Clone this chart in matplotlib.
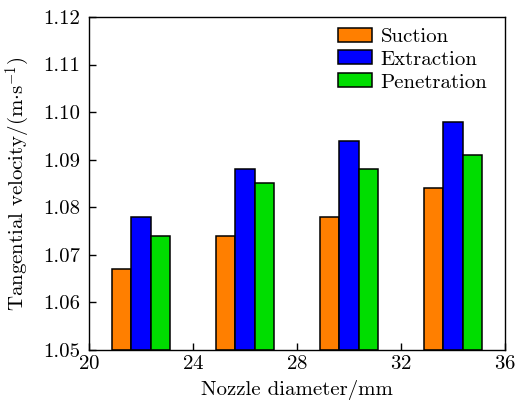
import numpy as np
import matplotlib
matplotlib.use("Agg")
import matplotlib.pyplot as plt

plt.rcParams['font.family'] = 'serif'
plt.rcParams['font.serif'] = ['cmr10']
plt.rcParams['mathtext.fontset'] = 'cm'
plt.rcParams['axes.formatter.use_mathtext'] = True

diameters = [22, 26, 30, 34]
suction = [1.067, 1.074, 1.078, 1.084]
extraction = [1.078, 1.088, 1.094, 1.098]
penetration = [1.074, 1.085, 1.088, 1.091]

series = [("Suction", suction, "#FF7F00"),
          ("Extraction", extraction, "#0000FF"),
          ("Penetration", penetration, "#00DD00")]

fig = plt.figure(figsize=(5.17, 4.03), dpi=100)
ax = fig.add_axes([0.172, 0.1315, 0.805, 0.8265])

w = 0.75
x = np.array(diameters, dtype=float)
for i, (name, vals, col) in enumerate(series):
    ax.bar(x + (i - 1) * w, np.array(vals) - 1.05, width=w, bottom=1.05,
           color=col, edgecolor="black", linewidth=1.1, label=name)

ax.set_xlim(20, 36)
ax.set_ylim(1.05, 1.12)
ax.set_xticks([20, 24, 28, 32, 36])
yt = np.arange(1.05, 1.1201, 0.01)
ax.set_yticks(yt)
ax.set_yticklabels(["%.2f" % v for v in yt])
ax.tick_params(direction="in", length=5, width=1, labelsize=15)
ax.tick_params(axis="y", pad=6)
for s in ax.spines.values():
    s.set_linewidth(1.0)

ax.set_xlabel("Nozzle diameter/mm", fontsize=15, labelpad=5)
ax.set_ylabel(r"Tangential velocity/(m$\cdot$s$^{-1}$)", fontsize=15, labelpad=8)

ax.legend(loc="upper right", frameon=False, fontsize=15, handlelength=1.62,
          handleheight=0.66, labelspacing=0.22, handletextpad=0.4,
          borderaxespad=0.3, bbox_to_anchor=(0.992, 1.012))

fig.savefig("out.png", dpi=100)
